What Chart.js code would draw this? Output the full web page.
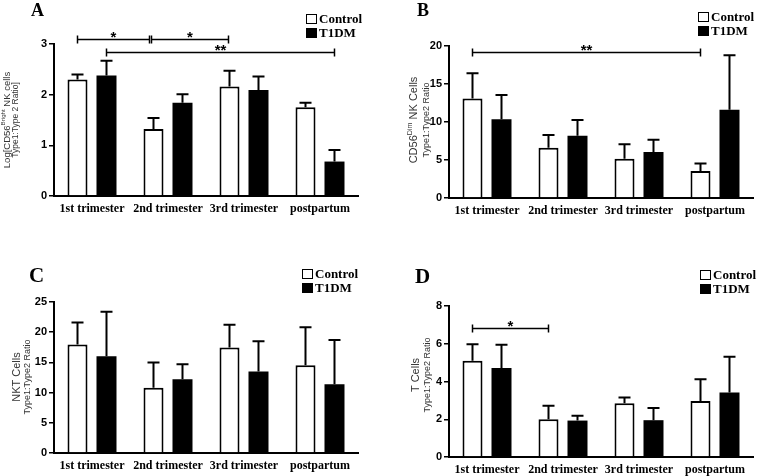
<!DOCTYPE html>
<html>
<head>
<meta charset="utf-8">
<script src="https://cdn.jsdelivr.net/npm/chart.js@4"></script>
<style>
  html, body { margin: 0; padding: 0; background: #fff; }
  #wrap { position: relative; width: 759px; height: 476px; overflow: hidden; }
  canvas { position: absolute; }
</style>
</head>
<body>
<div id="wrap">
  <canvas id="panelA" width="380" height="238" style="left:0;top:0"></canvas>
  <canvas id="panelB" width="379" height="238" style="left:380px;top:0"></canvas>
  <canvas id="panelC" width="380" height="238" style="left:0;top:238px"></canvas>
  <canvas id="panelD" width="379" height="238" style="left:380px;top:238px"></canvas>
</div>
<script>
const categories = ['1st trimester', '2nd trimester', '3rd trimester', 'postpartum'];
const seriesNames = ['Control', 'T1DM'];

// A - Log[CD56 bright NK cells Type1:Type2 ratio]
const aControl = [2.30, 1.32, 2.16, 1.75];
const aControlSem = [0.10, 0.22, 0.31, 0.09];
const aT1dm = [2.38, 1.84, 2.09, 0.68];
const aT1dmSem = [0.29, 0.17, 0.27, 0.23];
const aTicks = [0, 3, 1];

// B - CD56 dim NK cells
const bControl = [13.1, 6.6, 5.17, 3.55];
const bControlSem = [3.3, 1.7, 1.9, 1.0];
const bT1dm = [10.35, 8.2, 6.05, 11.6];
const bT1dmSem = [3.2, 2.06, 1.63, 7.17];
const bTicks = [0, 20, 5];

// C - NKT cells
const cControl = [17.95, 10.8, 17.45, 14.54];
const cControlSem = [3.65, 4.2, 3.8, 6.26];
const cT1dm = [16.0, 12.2, 13.5, 11.4];
const cT1dmSem = [7.4, 2.5, 5.0, 7.3];
const cTicks = [0, 25, 5];

// D - T cells
const dControl = [5.10, 2.0, 2.85, 2.97];
const dControlSem = [0.88, 0.71, 0.30, 1.15];
const dT1dm = [4.71, 1.93, 1.95, 3.42];
const dT1dmSem = [1.24, 0.25, 0.65, 1.89];
const dTicks = [0, 8, 2];

// significance brackets: [category, series] -> [category, series], height in data units
const aBrackets = [
  { from: [0, 0], to: [1, 0], y: 3.10, label: '*', nudge: [0, -4] },
  { from: [1, 0], to: [2, 0], y: 3.10, label: '*', nudge: [-2, -1] },
  { from: [0, 1], to: [3, 1], y: 2.85, label: '**' }
];
const bBrackets = [{ from: [0, 0], to: [3, 0], y: 19.25, label: '**' }];
const cBrackets = [];
const dBrackets = [{ from: [0, 0], to: [1, 0], y: 6.85, label: '*' }];

const SERIF = '"Liberation Serif", "Times New Roman", serif';
const SANS = '"Liberation Sans", Arial, sans-serif';

// draw a rotated line made of normal / superscript pieces
function drawVertical(ctx, cx, cy, pieces, size) {
  ctx.save();
  ctx.translate(cx, cy);
  ctx.rotate(-Math.PI / 2);
  ctx.textBaseline = 'middle';
  ctx.textAlign = 'left';
  let total = 0;
  pieces.forEach(p => {
    ctx.font = (p.sup ? size * 0.65 : size) + 'px ' + SANS;
    p.w = ctx.measureText(p.text).width;
    total += p.w;
  });
  let x = -total / 2;
  pieces.forEach(p => {
    ctx.font = (p.sup ? size * 0.65 : size) + 'px ' + SANS;
    ctx.fillText(p.text, x, p.sup ? -size * 0.35 : 0);
    x += p.w;
  });
  ctx.restore();
}

const decorPlugin = {
  id: 'decor',
  afterDatasetsDraw(chart) {
    const ctx = chart.ctx;
    const yScale = chart.scales.y;
    // error bars (upper only)
    chart.data.datasets.forEach((ds, di) => {
      const meta = chart.getDatasetMeta(di);
      meta.data.forEach((bar, i) => {
        const top = yScale.getPixelForValue(ds.data[i] + ds.sem[i]);
        ctx.save();
        ctx.strokeStyle = '#000';
        ctx.lineWidth = 2;
        ctx.beginPath();
        ctx.moveTo(bar.x, bar.y);
        ctx.lineTo(bar.x, top);
        ctx.moveTo(bar.x - 6, top);
        ctx.lineTo(bar.x + 6, top);
        ctx.stroke();
        ctx.restore();
      });
    });
  },
  afterDraw(chart) {
    const ctx = chart.ctx;
    const o = chart.options.plugins.decor;
    const yScale = chart.scales.y;

    // panel letter
    ctx.save();
    ctx.fillStyle = '#000';
    ctx.font = 'bold ' + o.letterSize + 'px ' + SERIF;
    ctx.textBaseline = 'alphabetic';
    ctx.fillText(o.letter, o.letterAt[0], o.letterAt[1]);

    // legend
    ctx.font = 'bold 13px ' + SERIF;
    ctx.textBaseline = 'middle';
    seriesNames.forEach((name, i) => {
      const bx = o.legendAt[0], by = o.legendAt[1] + i * 14;
      if (i === 0) {
        ctx.fillStyle = '#fff';
        ctx.fillRect(bx, by, 11, 10);
        ctx.strokeStyle = '#000';
        ctx.lineWidth = 1;
        ctx.strokeRect(bx + 0.5, by + 0.5, 10, 9);
      } else {
        ctx.fillStyle = '#000';
        ctx.fillRect(bx, by, 11, 10);
      }
      ctx.fillStyle = '#000';
      ctx.fillText(name, bx + 13, by + 5.5);
    });
    ctx.restore();

    // y titles
    ctx.save();
    ctx.fillStyle = '#333';
    o.yTitle.forEach(line => drawVertical(ctx, line.x, o.yTitleY, line.pieces, line.size));
    ctx.restore();

    // significance brackets
    ctx.save();
    ctx.strokeStyle = '#000';
    ctx.fillStyle = '#000';
    ctx.lineWidth = 1.5;
    o.brackets.forEach(b => {
      const nudge = b.nudge || [0, 0];
      const x1 = chart.getDatasetMeta(b.from[1]).data[b.from[0]].x + nudge[0];
      const x2 = chart.getDatasetMeta(b.to[1]).data[b.to[0]].x + nudge[1];
      const y = Math.round(yScale.getPixelForValue(b.y)) + 0.5;
      ctx.beginPath();
      ctx.moveTo(x1, y); ctx.lineTo(x2, y);
      ctx.moveTo(x1, y - 4); ctx.lineTo(x1, y + 4);
      ctx.moveTo(x2, y - 4); ctx.lineTo(x2, y + 4);
      ctx.stroke();
      ctx.font = 'bold 15px ' + SANS;
      ctx.textAlign = 'center';
      ctx.textBaseline = 'alphabetic';
      ctx.fillText(b.label, (x1 + x2) / 2, y + 2);
    });
    ctx.restore();
  }
};

function makePanel(id, control, controlSem, t1dm, t1dmSem, ticks, brackets, layout) {
  new Chart(document.getElementById(id), {
    type: 'bar',
    data: {
      labels: categories,
      datasets: [
        { label: seriesNames[0], data: control, sem: controlSem, backgroundColor: '#fff', borderColor: '#000', borderWidth: 2 },
        { label: seriesNames[1], data: t1dm, sem: t1dmSem, backgroundColor: '#000', borderColor: '#000', borderWidth: 0 }
      ]
    },
    options: {
      responsive: false,
      animation: false,
      devicePixelRatio: 1,
      categoryPercentage: 0.763,
      barPercentage: 0.69,
      layout: { padding: { top: layout.top, right: layout.right, bottom: 0, left: 0 } },
      scales: {
        x: {
          grid: { display: false, drawTicks: false },
          border: { display: true, color: '#000', width: 2 },
          ticks: { color: '#000', font: { family: SERIF, size: 12, weight: 'bold' }, padding: 6, maxRotation: 0, autoSkip: false },
          afterFit: s => { s.height = layout.xHeight; }
        },
        y: {
          min: ticks[0],
          max: ticks[1],
          grid: { drawOnChartArea: false, drawTicks: true, tickLength: 5, color: '#000', lineWidth: 1.5 },
          border: { display: true, color: '#000', width: 2 },
          ticks: { stepSize: ticks[2], color: '#000', font: { family: SANS, size: 11, weight: 'bold' }, padding: 2 },
          afterFit: s => { s.width = layout.yWidth; }
        }
      },
      plugins: {
        legend: { display: false },
        tooltip: { enabled: false },
        decor: Object.assign({ brackets: brackets }, layout.decor)
      }
    },
    plugins: [decorPlugin]
  });
}

makePanel('panelA', aControl, aControlSem, aT1dm, aT1dmSem, aTicks, aBrackets, {
  top: 44, right: 22, xHeight: 42, yWidth: 54,
  decor: {
    letter: 'A', letterSize: 18, letterAt: [31, 16], legendAt: [306, 14], yTitleY: 120,
    yTitle: [
      { x: 7, size: 9.5, pieces: [{ text: 'Log[CD56' }, { text: 'Bright', sup: true }, { text: ' NK cells' }] },
      { x: 16, size: 8.5, pieces: [{ text: 'Type1:Type 2 Ratio]' }] }
    ]
  }
});

makePanel('panelB', bControl, bControlSem, bT1dm, bT1dmSem, bTicks, bBrackets, {
  top: 46, right: 6, xHeight: 40, yWidth: 69,
  decor: {
    letter: 'B', letterSize: 18, letterAt: [37, 16], legendAt: [318, 12], yTitleY: 120,
    yTitle: [
      { x: 34, size: 11, pieces: [{ text: 'CD56' }, { text: 'Dim', sup: true }, { text: ' NK Cells' }] },
      { x: 47, size: 9, pieces: [{ text: 'Type1:Type2 Ratio' }] }
    ]
  }
});

makePanel('panelC', cControl, cControlSem, cT1dm, cT1dmSem, cTicks, cBrackets, {
  top: 64, right: 22, xHeight: 23, yWidth: 54,
  decor: {
    letter: 'C', letterSize: 21, letterAt: [29, 44], legendAt: [302, 31], yTitleY: 139,
    yTitle: [
      { x: 17, size: 11, pieces: [{ text: 'NKT Cells' }] },
      { x: 28, size: 9, pieces: [{ text: 'Type1:Type2 Ratio' }] }
    ]
  }
});

makePanel('panelD', dControl, dControlSem, dT1dm, dT1dmSem, dTicks, dBrackets, {
  top: 68, right: 6, xHeight: 19, yWidth: 69,
  decor: {
    letter: 'D', letterSize: 21, letterAt: [35, 45], legendAt: [320, 32], yTitleY: 137,
    yTitle: [
      { x: 36, size: 11, pieces: [{ text: 'T Cells' }] },
      { x: 48, size: 9, pieces: [{ text: 'Type1:Type2 Ratio' }] }
    ]
  }
});
</script>
</body>
</html>
